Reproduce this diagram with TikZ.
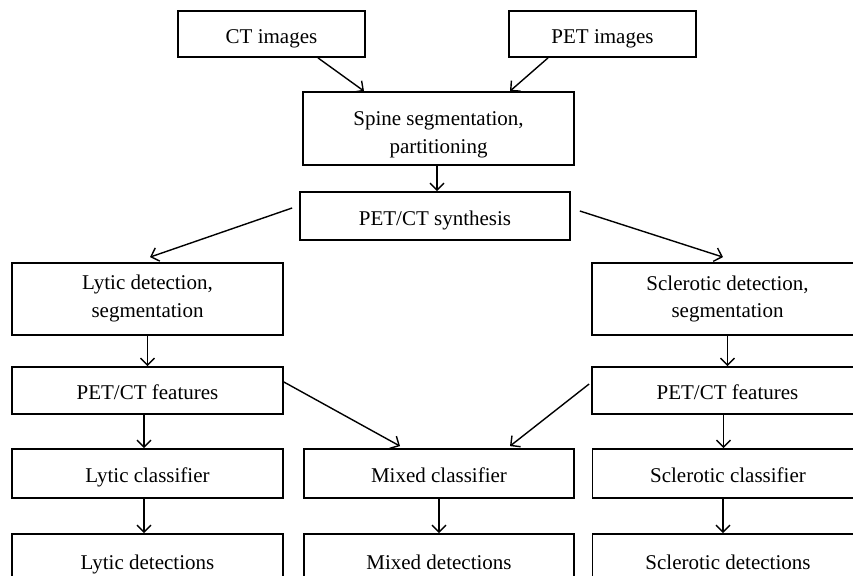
\documentclass[tikz,border=0pt]{standalone}
\usepackage{fontspec}
\setmainfont{Liberation Serif}
\usetikzlibrary{arrows.meta}
\tikzset{
  caja/.style={draw, line width=0.9pt, align=center, inner sep=0pt,
    minimum width=135.5pt, font=\fontsize{10.5}{13.75}\selectfont},
  linea/.style={text height=10pt, text depth=1pt},
  doble/.style={text height=#1, text depth=1.5pt},
  flecha/.style={-{Straight Barb[length=3.5pt,width=7pt]}, line width=0.7pt}
}
\begin{document}
\begin{tikzpicture}[x=0.5pt,y=-0.5pt]
  \useasboundingbox (0,0) rectangle (853,575);
  \clip (0,0) rectangle (853,575);

  % Imagenes de entrada
  \node[caja, linea, minimum width=93.5pt, minimum height=23pt] (ct) at (271.5,34) {CT images};
  \node[caja, linea, minimum width=93.5pt, minimum height=23pt] (pet) at (602.5,34) {PET images};
  % Segmentacion y sintesis
  \node[caja, doble=26pt, minimum height=36.5pt] (spine) at (438.5,128.5) {Spine segmentation,\\partitioning};
  \node[caja, linea, minimum width=135pt, minimum height=24pt] (synth) at (435,216) {PET/CT synthesis};

  % Rama litica
  \node[caja, doble=19.5pt, minimum height=36pt] (lyticdet) at (147.5,299) {Lytic detection,\\segmentation};
  \node[caja, linea, minimum height=23.5pt] (lyticfeat) at (147.5,390.5) {PET/CT features};
  \node[caja, linea, minimum height=24.5pt] (lyticcls) at (147.5,473.5) {Lytic classifier};
  \node[caja, linea, minimum height=26pt] (lyticout) at (147.5,560) {Lytic detections};

  % Rama mixta
  \node[caja, linea, minimum width=135pt, minimum height=24.5pt] (mixedcls) at (439,473.5) {Mixed classifier};
  \node[caja, linea, minimum width=135pt, minimum height=26pt] (mixedout) at (439,560) {Mixed detections};

  % Rama esclerotica
  \node[caja, doble=20pt, minimum height=36pt] (sclerdet) at (727.5,299) {Sclerotic detection,\\segmentation};
  \node[caja, linea, minimum height=23.5pt] (sclerfeat) at (727.5,390.5) {PET/CT features};
  \node[caja, linea, minimum height=24.5pt] (sclercls) at (728,473.5) {Sclerotic classifier};
  \node[caja, linea, minimum height=26pt] (sclerout) at (728,560) {Sclerotic detections};

  % Flechas
  \draw[flecha] ([xshift=23.25pt]ct.south) -- ([xshift=-37.25pt]spine.north);
  \draw[flecha] ([xshift=-27.25pt]pet.south) -- ([xshift=35.75pt]spine.north);
  \draw[flecha] ([xshift=-0.75pt]spine.south) -- ([xshift=-0.75pt]spine.south |- synth.north);
  \draw[flecha] ([xshift=-3.5pt,yshift=4pt]synth.west) -- ([xshift=1.25pt,yshift=2.5pt]lyticdet.north);
  \draw[flecha] ([xshift=4.5pt,yshift=2.5pt]synth.east) -- ([xshift=-2.25pt,yshift=2.5pt]sclerdet.north);
  \draw[flecha] (lyticdet.south) -- (lyticfeat.north);
  \draw[flecha] (sclerdet.south) -- (sclerfeat.north);
  \draw[flecha] ([yshift=4.25pt]lyticfeat.east) -- ([xshift=-19.5pt,yshift=1pt]mixedcls.north);
  \draw[flecha] ([xshift=-1pt,yshift=3.25pt]sclerfeat.west) -- ([xshift=35.5pt,yshift=1pt]mixedcls.north);
  \draw[flecha] ([xshift=-1.75pt]lyticfeat.south) -- ([xshift=-1.75pt]lyticfeat.south |- lyticcls.north);
  \draw[flecha] ([xshift=-1.75pt]lyticcls.south) -- ([xshift=-1.75pt]lyticcls.south |- lyticout.north);
  \draw[flecha] (mixedcls.south) -- (mixedout.north);
  \draw[flecha] ([xshift=-2pt]sclerfeat.south) -- ([xshift=-2pt]sclerfeat.south |- sclercls.north);
  \draw[flecha] ([xshift=-2.5pt]sclercls.south) -- ([xshift=-2.5pt]sclercls.south |- sclerout.north);
\end{tikzpicture}
\end{document}
